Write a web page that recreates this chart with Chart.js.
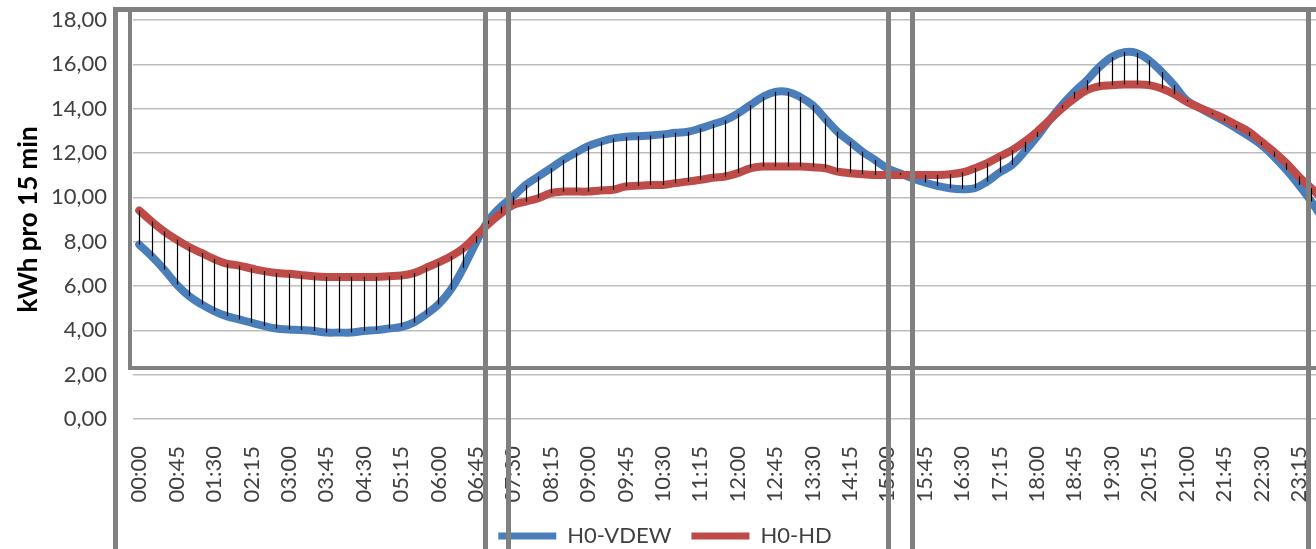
<!DOCTYPE html>
<html>
<head>
<meta charset="utf-8">
<title>H0 Lastprofil</title>
<script src="https://cdn.jsdelivr.net/npm/chart.js@4.4.1/dist/chart.umd.min.js"></script>
<style>
  html, body { margin: 0; padding: 0; background: #fff; overflow: hidden; }
</style>
</head>
<body>
<canvas id="LoadChart" width="1345" height="557"></canvas>
<script>
// quarter hours of the day (category axis)
const times = [
  "00:00","00:15","00:30","00:45","01:00","01:15","01:30","01:45","02:00","02:15","02:30","02:45",
  "03:00","03:15","03:30","03:45","04:00","04:15","04:30","04:45","05:00","05:15","05:30","05:45",
  "06:00","06:15","06:30","06:45","07:00","07:15","07:30","07:45","08:00","08:15","08:30","08:45",
  "09:00","09:15","09:30","09:45","10:00","10:15","10:30","10:45","11:00","11:15","11:30","11:45",
  "12:00","12:15","12:30","12:45","13:00","13:15","13:30","13:45","14:00","14:15","14:30","14:45",
  "15:00","15:15","15:30","15:45","16:00","16:15","16:30","16:45","17:00","17:15","17:30","17:45",
  "18:00","18:15","18:30","18:45","19:00","19:15","19:30","19:45","20:00","20:15","20:30","20:45",
  "21:00","21:15","21:30","21:45","22:00","22:15","22:30","22:45","23:00","23:15","23:30","23:45"
]

// only every third label is printed
const tickLabels = [
  "00:00","00:45","01:30","02:15","03:00","03:45","04:30","05:15","06:00","06:45","07:30","08:15",
  "09:00","09:45","10:30","11:15","12:00","12:45","13:30","14:15","15:00","15:45","16:30","17:15",
  "18:00","18:45","19:30","20:15","21:00","21:45","22:30","23:15"
]

// kWh pro 15 min
const vdew = [
  7.87, 7.34, 6.74, 6.07, 5.54, 5.17, 4.87, 4.64, 4.49, 4.35, 4.20, 4.08,
  4.04, 4.01, 3.97, 3.90, 3.90, 3.90, 3.97, 4.01, 4.08, 4.15, 4.35, 4.72,
  5.17, 5.84, 6.82, 7.95, 8.95, 9.58, 10.04, 10.56, 10.94, 11.31, 11.69, 12.01,
  12.31, 12.51, 12.66, 12.73, 12.76, 12.79, 12.84, 12.91, 12.96, 13.11, 13.30, 13.48,
  13.78, 14.16, 14.53, 14.76, 14.76, 14.53, 14.16, 13.56, 12.96, 12.51, 12.06, 11.69,
  11.31, 11.09, 10.86, 10.67, 10.52, 10.41, 10.37, 10.41, 10.71, 11.12, 11.46, 12.06,
  12.73, 13.48, 14.16, 14.76, 15.28, 15.88, 16.33, 16.55, 16.51, 16.18, 15.66, 15.06,
  14.38, 14.05, 13.74, 13.44, 13.11, 12.76, 12.36, 11.84, 11.24, 10.56, 9.81, 8.95
]

const hd = [
  9.41, 8.91, 8.46, 8.09, 7.76, 7.49, 7.22, 7.01, 6.92, 6.79, 6.67, 6.59,
  6.55, 6.49, 6.44, 6.41, 6.41, 6.41, 6.41, 6.41, 6.44, 6.47, 6.58, 6.82,
  7.07, 7.34, 7.71, 8.25, 8.80, 9.27, 9.66, 9.81, 9.96, 10.19, 10.26, 10.26,
  10.26, 10.31, 10.34, 10.49, 10.52, 10.56, 10.56, 10.64, 10.71, 10.79, 10.88, 10.94,
  11.09, 11.31, 11.39, 11.39, 11.39, 11.39, 11.36, 11.31, 11.16, 11.09, 11.04, 11.01,
  11.01, 11.01, 11.01, 11.01, 11.01, 11.04, 11.12, 11.31, 11.54, 11.84, 12.13, 12.51,
  12.96, 13.48, 14.01, 14.46, 14.83, 15.01, 15.06, 15.09, 15.09, 15.06, 14.91, 14.65,
  14.31, 14.05, 13.81, 13.56, 13.26, 12.96, 12.51, 12.06, 11.54, 10.94, 10.41, 9.85
]

const blue = "#4a7ebb"
const red = "#be4b48"
const labelFont = { family: "Lato", size: 22 }

// black high-low lines between the two series
const hiLoLines = {
  id: "hiLoLines",
  afterDatasetsDraw(chart) {
    const ctx = chart.ctx
    const a = chart.getDatasetMeta(0).data
    const b = chart.getDatasetMeta(1).data
    ctx.save()
    ctx.strokeStyle = "#000"
    ctx.lineWidth = 1.2
    for (let i = 0; i < a.length; i++) {
      let x = Math.round(a[i].x) + 0.5
      ctx.beginPath()
      ctx.moveTo(x, a[i].y)
      ctx.lineTo(x, b[i].y)
      ctx.stroke()
    }
    ctx.restore()
  }
}

// the grey frame bars lying over the screenshot
const frameBars = {
  id: "frameBars",
  afterDraw(chart) {
    const ctx = chart.ctx
    ctx.save()
    ctx.fillStyle = "#808080"
    ctx.fillRect(113, 7, 1240, 5)     // top
    ctx.fillRect(113, 7, 5, 560)      // outer left
    ctx.fillRect(128, 7, 4, 363)      // inner left
    ctx.fillRect(128, 366, 1220, 4)   // inner bottom
    const xs = [483, 506, 886, 910, 1306]
    xs.forEach(x => ctx.fillRect(x, 7, 5, 560))
    ctx.restore()
  }
}

const ctx = document.getElementById("LoadChart").getContext("2d")

const myChart = new Chart(ctx, {
  type: "line",
  data: {
    labels: times,
    datasets: [
      { label: "H0-VDEW", data: vdew, borderColor: blue, backgroundColor: blue, borderWidth: 8, order: 1 },
      { label: "H0-HD", data: hd, borderColor: red, backgroundColor: red, borderWidth: 8, order: 0 }
    ]
  },
  options: {
    responsive: false,
    animation: false,
    events: [],
    elements: {
      point: { radius: 0 },
      line: { tension: 0.4, borderCapStyle: "round", borderJoinStyle: "round" }
    },
    layout: { padding: { top: 20, right: 15, left: 0, bottom: 0 } },
    scales: {
      x: {
        offset: true,
        grid: { display: false, drawTicks: false },
        border: { display: false },
        ticks: {
          autoSkip: false,
          maxRotation: 90,
          minRotation: 90,
          padding: 27,
          color: "#404040",
          font: labelFont,
          callback: function (value, index) {
            let t = times[index]
            return tickLabels.includes(t) ? t : null
          }
        },
        afterFit: s => {
          s.height = 86
          s.paddingLeft = 0
          s.paddingRight = 0
        }
      },
      y: {
        min: 0,
        max: 18,
        grid: { color: "#bdbdbd", lineWidth: 1.5, drawTicks: false },
        border: { display: false },
        ticks: {
          stepSize: 2,
          padding: 26,
          color: "#404040",
          font: labelFont,
          callback: v => v.toFixed(2).replace(".", ",")
        },
        title: {
          display: true,
          text: "kWh pro 15 min",
          color: "#000",
          font: { family: "Lato", size: 26, weight: "bold" },
          padding: { top: 13, bottom: 0 }
        },
        afterFit: s => {
          s.width = 133
          s.paddingTop = 0
          s.paddingBottom = 0
        }
      }
    },
    plugins: {
      tooltip: { enabled: false },
      legend: {
        position: "bottom",
        labels: {
          boxWidth: 58,
          boxHeight: 7,
          padding: 20,
          color: "#404040",
          font: labelFont,
          sort: (a, b) => a.datasetIndex - b.datasetIndex,
          generateLabels: chart => {
            let items = Chart.defaults.plugins.legend.labels.generateLabels(chart)
            items.forEach(it => { it.fillStyle = it.strokeStyle; it.lineWidth = 0 })
            return items
          }
        }
      }
    }
  },
  plugins: [hiLoLines, frameBars]
})
</script>
</body>
</html>
